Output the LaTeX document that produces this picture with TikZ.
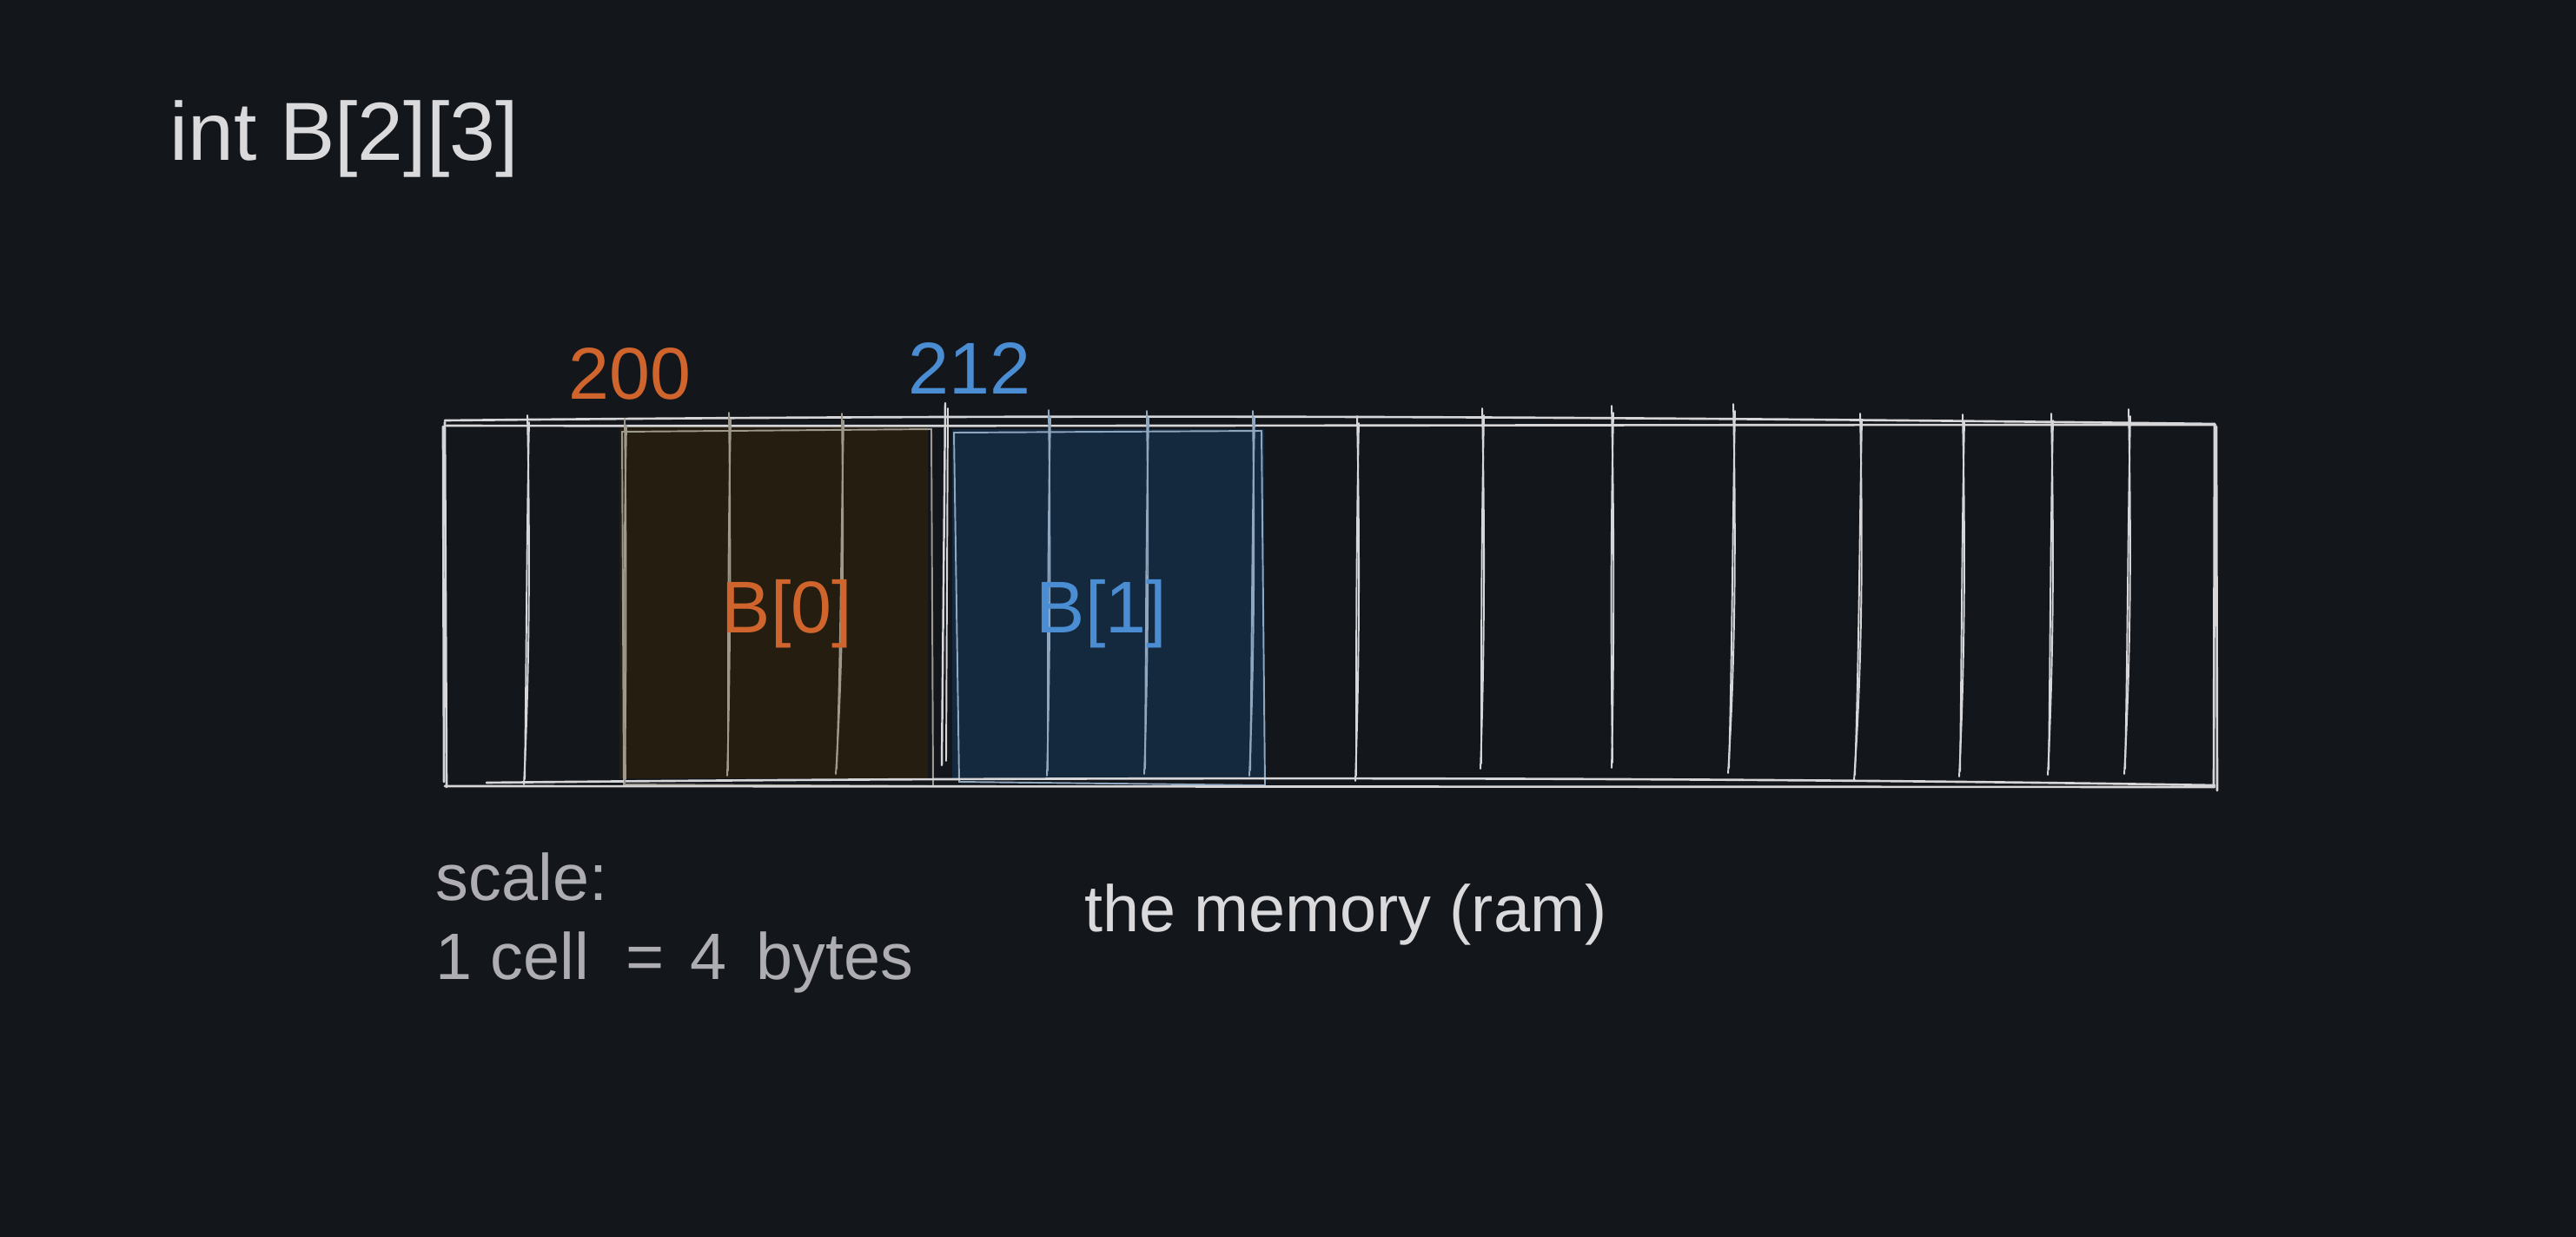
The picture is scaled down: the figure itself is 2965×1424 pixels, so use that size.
\documentclass[tikz,border=0pt]{standalone}
\usepackage{fontspec}
\setmainfont{Liberation Sans}
\definecolor{bgc}{HTML}{13161B}
\definecolor{linec}{HTML}{D6D6D8}
\definecolor{orng}{HTML}{CF652D}
\definecolor{blu}{HTML}{4A8DD3}
\definecolor{bzfill}{HTML}{241D10}
\definecolor{bofill}{HTML}{14283E}
\definecolor{bzline}{HTML}{9E998D}
\definecolor{boline}{HTML}{8EA6BE}
\definecolor{txtlight}{HTML}{DADADC}
\definecolor{txtgrey}{HTML}{AEAEB2}
\tikzset{
  sketch/.style={draw=linec, line width=0.75pt, line cap=round, line join=round},
  divider/.style={draw=linec, line width=0.55pt, line cap=round},
  bzdiv/.style={draw=bzline, line width=0.55pt, line cap=round},
  bodiv/.style={draw=boline, line width=0.55pt, line cap=round},
  big/.style={inner sep=0pt, font=\fontsize{27}{32}\selectfont},
  mid/.style={inner sep=0pt, font=\fontsize{24}{28}\selectfont},
  small/.style={inner sep=0pt, font=\fontsize{21.5}{26}\selectfont}
}
\begin{document}
\begin{tikzpicture}[x=0.01cm, y=-0.01cm]
\fill[bgc] (0,0) rectangle (2965,1424);
\useasboundingbox (0,0) rectangle (2965,1424);

% filled blocks B[0] and B[1]
\fill[bzfill] (713,490) rectangle (1068,896);
\draw[bzline, line width=0.55pt] (716,497) -- (1072,494) -- (1074,905) -- (718,903) -- cycle;
\fill[bofill] (1096,494) rectangle (1455,897);
\draw[boline, line width=0.55pt] (1098,498) -- (1452,496) -- (1456,904) -- (1104,900) -- cycle;

% outer memory rectangle (sketchy, doubled)
\draw[sketch] (512,484) .. controls (1000,479) and (1600,476) .. (2549,488);
\draw[sketch] (514,490) .. controls (1100,491) and (1800,489) .. (2550,489);
\draw[sketch] (512,905) -- (2549,906);
\draw[sketch] (560,901) .. controls (1100,895) and (1900,893) .. (2549,904);
\draw[sketch] (512,486) -- (514,906);
\draw[sketch] (510,491) -- (511,900);
\draw[sketch] (2549,488) -- (2548,906);
\draw[sketch] (2551,491) -- (2552,910);

% dividers outside coloured blocks
\foreach \x/\t/\b/\s in {607/478/903/-4, 1562/479/899/-2, 1706/470/885/-2,
  1855/467/884/0, 1995/465/890/-6, 2141/476/898/-7, 2259/477/894/-4,
  2361/476/892/-4, 2450/471/891/-5}{
  \draw[divider] (\x,\t) .. controls (\x+3,\t+140) and (\x+3,\b-140) .. (\x+\s,\b);
  \draw[divider] (\x+2,\t+8) .. controls (\x-1,\t+150) and (\x-1,\b-150) .. (\x+\s+1,\b-6);
}
% dividers inside B[0]
\foreach \x/\t/\b/\s in {719/482/903/0, 839/475/893/-2, 969/476/891/-7}{
  \draw[bzdiv] (\x,\t) .. controls (\x+2,\t+140) and (\x+2,\b-140) .. (\x+\s,\b);
  \draw[bzdiv] (\x+2,\t+8) .. controls (\x-1,\t+150) and (\x-1,\b-150) .. (\x+\s+1,\b-6);
}
% dividers inside B[1]
\foreach \x/\t/\b/\s in {1207/472/893/-2, 1320/473/891/-3, 1442/473/893/-4}{
  \draw[bodiv] (\x,\t) .. controls (\x+2,\t+140) and (\x+2,\b-140) .. (\x+\s,\b);
  \draw[bodiv] (\x+2,\t+8) .. controls (\x-1,\t+150) and (\x-1,\b-150) .. (\x+\s+1,\b-6);
}
% marker line at 212
\draw[divider, line width=0.7pt] (1088,464) -- (1084,881);
\draw[divider] (1091,470) -- (1089,876);

% texts
\node[big, text=txtlight, anchor=base west] (decl) at (195,184) {int B[2][3]};
\node[mid, text=orng, anchor=base] (addr0) at (725,459) {200};
\node[mid, text=blu, anchor=base] (addr1) at (1116,453) {212};
\node[mid, text=orng] (row0) at (906,707) {B[0]};
\node[mid, text=blu] (row1) at (1268,707) {B[1]};
\node[small, text=txtgrey, anchor=base west] (scl) at (501,1036) {scale:};
\node[small, text=txtgrey, anchor=base west] (cell) at (501,1127) {1 cell\ \ = \hspace{0.12em}4\hspace{0.45em}bytes};
\node[small, text=txtlight, anchor=base west] (mem) at (1248,1072) {the memory (ram)};
\end{tikzpicture}
\end{document}
